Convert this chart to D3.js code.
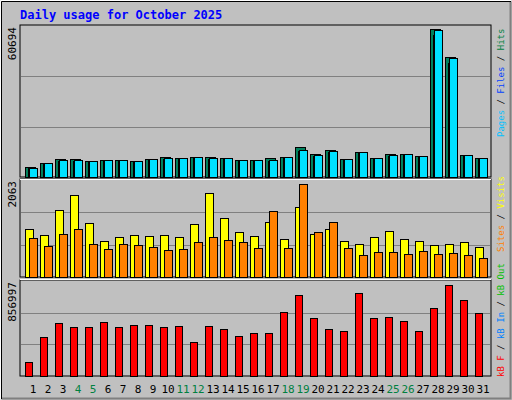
<!DOCTYPE html>
<html><head><meta charset="utf-8">
<script src="https://cdn.jsdelivr.net/npm/d3@7"></script>
<style>body{margin:0;background:#fff}</style>
</head><body>
<svg id="chart" width="512" height="400"></svg>
<script>
// daily data, October 2025
var days = d3.range(1, 32);
var weekends = [4, 5, 11, 12, 18, 19, 25, 26];
var hits = [4020, 5630, 7240, 7240, 6430, 6830, 6830, 6430, 7240, 8040, 7640, 8040, 8040, 7640, 6830, 6830, 7640, 8040, 12060, 9250, 10850, 7240, 10050, 7640, 9250, 9250, 8440, 59500, 48240, 8840, 7640];
var files = [3500, 5300, 6600, 6600, 6000, 6500, 6500, 6100, 6900, 7300, 7300, 7700, 7300, 7300, 6500, 6500, 6500, 7700, 10400, 8500, 10000, 6900, 9600, 7300, 8500, 8800, 8100, 57000, 46000, 8500, 7300];
var pages = [3620, 5630, 6830, 6830, 6430, 6830, 6830, 6430, 7240, 7640, 7640, 8040, 7640, 7640, 6830, 6830, 6830, 8040, 10850, 8840, 10450, 7240, 10050, 7640, 8840, 9250, 8440, 59100, 47840, 8840, 7640];
var visits = [1020, 890, 1430, 1750, 1150, 770, 850, 890, 870, 890, 850, 1130, 1790, 1260, 960, 870, 1170, 810, 1490, 920, 1020, 770, 700, 850, 980, 810, 770, 680, 700, 750, 640];
var sites = [830, 660, 920, 1020, 700, 600, 700, 680, 640, 580, 600, 750, 850, 790, 750, 620, 1410, 620, 1980, 960, 1170, 620, 470, 530, 530, 490, 550, 490, 510, 470, 400];
var kbytes = [125000, 348000, 482000, 446000, 446000, 491000, 446000, 464000, 464000, 446000, 455000, 304000, 455000, 420000, 357000, 384000, 384000, 580000, 732000, 527000, 420000, 402000, 750000, 527000, 536000, 500000, 402000, 616000, 821000, 687000, 571000];
var maxHits = 60694, maxVisits = 2063, maxKB = 856997;

var svg = d3.select("#chart");
var font = "DejaVu Sans Mono";

// frame
svg.append("rect").attr("width", 512).attr("height", 400).attr("fill", "#c0c0c0");
svg.append("path").attr("d", "M0.5,399.5V0.5H511.5").attr("stroke", "#fff").attr("stroke-width", 1).attr("fill", "none");
svg.append("path").attr("d", "M1.5,399V1.5H511").attr("stroke", "#000").attr("fill", "none");
svg.append("path").attr("d", "M510.5,2V398.5H2").attr("stroke", "#808080").attr("stroke-width", 2).attr("fill", "none");

svg.append("text").attr("x", 20).attr("y", 19).attr("font-family", font).attr("font-size", 12)
	.attr("font-weight", "bold").attr("fill", "#0000ff").text("Daily usage for October 2025");

var x = d3.scaleBand().domain(days).range([21, 21 + 15 * 31]);
var left = 20, right = 491;

function panel(top, bottom, max) {
	var y = d3.scaleLinear().domain([0, max]).range([bottom, top]);
	var g = svg.append("g");
	g.append("rect").attr("x", left).attr("y", top - 1).attr("width", right - left).attr("height", bottom - top + 1)
		.attr("fill", "#c0c0c0").attr("stroke", "#000");
	[max / 3, 2 * max / 3].forEach(function(v) {
		g.append("line").attr("x1", left + 1).attr("x2", right - 1)
			.attr("y1", Math.round(y(v)) + 0.5).attr("y2", Math.round(y(v)) + 0.5).attr("stroke", "#808080");
	});
	g.append("text").attr("transform", "translate(16," + (top + 1) + ") rotate(-90)")
		.attr("text-anchor", "end").attr("font-family", font).attr("font-size", 11).attr("fill", "#000").text(max);
	return { g: g, y: y, bottom: bottom };
}

function bars(p, data, dx, w, color) {
	p.g.selectAll(null).data(data).enter().append("rect")
		.attr("x", function(d, i) { return x(days[i]) + dx + 0.5; })
		.attr("y", function(d) { return Math.round(p.y(d)) + 0.5; })
		.attr("width", w)
		.attr("height", function(d) { return Math.max(0, p.bottom - Math.round(p.y(d))); })
		.attr("fill", color).attr("stroke", "#000");
}

var p1 = panel(26, 177, maxHits);
bars(p1, hits, 4, 10, "#00805c");
bars(p1, files, 7, 9, "#0040ff");
bars(p1, pages, 8, 8, "#00e0ff");

var p2 = panel(180, 277, maxVisits);
bars(p2, visits, 4, 8, "#ffff00");
bars(p2, sites, 8, 8, "#ff8000");

var p3 = panel(281, 376, maxKB);
bars(p3, kbytes, 4, 7, "#ff0000");
svg.append("line").attr("x1", left).attr("x2", right).attr("y1", 179.5).attr("y2", 179.5).attr("stroke", "#fff");
svg.append("line").attr("x1", left).attr("x2", right).attr("y1", 279.5).attr("y2", 279.5).attr("stroke", "#fff");

// day labels
svg.selectAll(".day").data(days).enter().append("text")
	.attr("x", function(d) { return x(d) + 12; }).attr("y", 393)
	.attr("text-anchor", "middle").attr("font-family", font).attr("font-size", 11)
	.attr("fill", function(d) { return weekends.indexOf(d) >= 0 ? "#008040" : "#000"; })
	.text(function(d) { return d; });

// legends (rotated, reading bottom to top)
function legend(yStart, parts) {
	var t = svg.append("text").attr("transform", "translate(504," + yStart + ") rotate(-90)")
		.attr("font-family", font).attr("font-size", 9).attr("textLength", null);
	parts.forEach(function(p) { t.append("tspan").attr("fill", p[1]).text(p[0]); });
}
legend(137, [["Pages", "#00c0ff"], [" / ", "#000"], ["Files", "#0040ff"], [" / ", "#000"], ["Hits", "#008040"]]);
legend(252, [["Sites", "#ff8000"], [" / ", "#000"], ["Visits", "#ffff00"]]);
legend(377, [["kB F", "#ff0000"], [" / ", "#000"], ["kB In", "#0080ff"], [" / ", "#000"], ["kB Out", "#00c000"]]);
</script>
</body></html>
